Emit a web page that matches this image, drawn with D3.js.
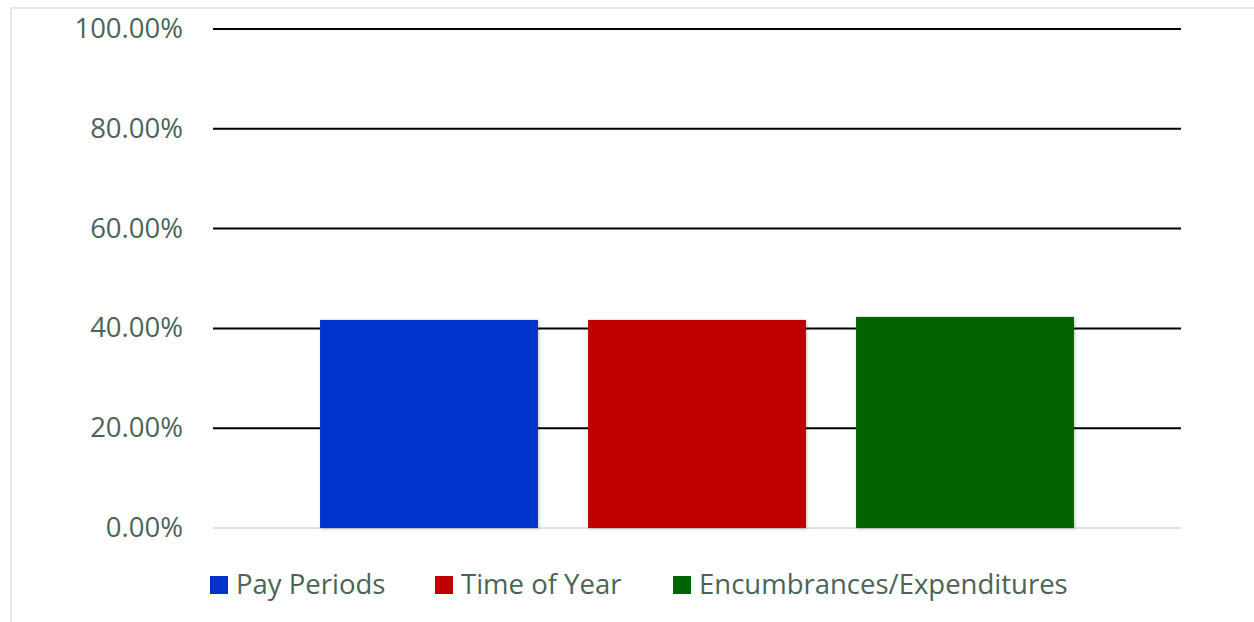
<!DOCTYPE html>
<html><head><meta charset="utf-8">
<script src="https://cdn.jsdelivr.net/npm/d3@7"></script>
<style>body{margin:0;background:#fff}svg{display:block}</style>
</head><body>
<script>
const seriesNames = ["Pay Periods", "Time of Year", "Encumbrances/Expenditures"];
const seriesValues = [0.417, 0.417, 0.423];
const seriesColors = ["#0033cc", "#c00000", "#006400"];
const tickValues = [0, 0.2, 0.4, 0.6, 0.8, 1.0];

const W = 1254, H = 622;
const m = {left: 213, right: 1181, top: 29, bottom: 528};
const svg = d3.select("body").append("svg").attr("width", W).attr("height", H);
const font = "'Open Sans', sans-serif";
const textColor = "#4a6456";

// border
svg.append("rect").attr("x", 11).attr("y", 8).attr("width", W - 11 + 5).attr("height", H)
  .attr("fill", "#fff").attr("stroke", "#dde3e1").attr("stroke-width", 1.5);

const defs = svg.append("defs");
const f = defs.append("filter").attr("id", "sh").attr("x", "-10%").attr("y", "-10%").attr("width", "120%").attr("height", "120%");
f.append("feDropShadow").attr("dx", 1).attr("dy", 1).attr("stdDeviation", 1.5).attr("flood-color", "#000").attr("flood-opacity", 0.25);

const y = d3.scaleLinear().domain([0, 1]).range([m.bottom, m.top]);
const x0 = d3.scaleBand().domain(["all"]).range([m.left, m.right]).paddingOuter(0.142).paddingInner(0);
const x1 = d3.scaleBand().domain(seriesNames).range([x0("all"), x0("all") + x0.bandwidth()]).paddingInner(0.187).paddingOuter(0);

// grid
svg.append("g").selectAll("line").data(tickValues).join("line")
  .attr("x1", m.left).attr("x2", m.right)
  .attr("y1", d => y(d)).attr("y2", d => y(d))
  .attr("stroke", d => d === 0 ? "#d9d9d9" : "#000")
  .attr("stroke-width", d => d === 0 ? 1.5 : 2);

// y labels
const fmt = d => (d * 100).toFixed(2) + "%";
svg.append("g").selectAll("text").data(tickValues).join("text")
  .attr("x", 183).attr("y", d => y(d)).attr("dy", "0.33em")
  .attr("text-anchor", "end").attr("font-family", font).attr("font-size", 27.5)
  .attr("fill", textColor).text(fmt);

// bars
svg.append("g").selectAll("rect").data(seriesNames).join("rect")
  .attr("x", d => x1(d)).attr("width", x1.bandwidth())
  .attr("y", (d, i) => y(seriesValues[i])).attr("height", (d, i) => y(0) - y(seriesValues[i]))
  .attr("fill", (d, i) => seriesColors[i]).attr("filter", "url(#sh)");

// legend
const legX = [210, 435, 673];
const lg = svg.append("g").selectAll("g").data(seriesNames).join("g")
  .attr("transform", (d, i) => `translate(${legX[i]},576)`);
lg.append("rect").attr("width", 18).attr("height", 18).attr("fill", (d, i) => seriesColors[i]);
lg.append("text").attr("x", 26).attr("y", 18)
  .attr("font-family", font).attr("font-size", 27.5).attr("fill", textColor).text(d => d);
</script>
</body></html>
